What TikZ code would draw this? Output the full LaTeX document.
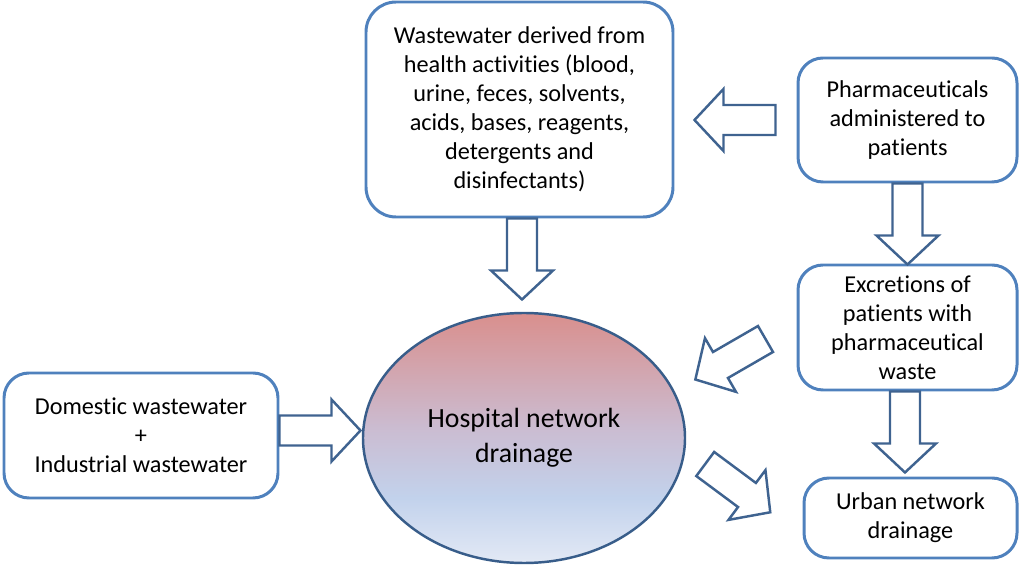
\documentclass[tikz,border=0pt]{standalone}
\usepackage{fontspec}
\setmainfont{Carlito}[RawFeature={-liga;-clig;-calt;-dlig}]
\usepackage{tikz}
\usetikzlibrary{calc,shapes.geometric}

\definecolor{boxblue}{HTML}{4F81BD}
\definecolor{arrowblue}{HTML}{3F6390}
\definecolor{ellblue}{HTML}{385D8A}
\definecolor{hosptop}{HTML}{D98F8D}
\definecolor{hospmid}{HTML}{CBBCD1}
\definecolor{hosplow}{HTML}{C2D2EC}
\definecolor{hospbot}{HTML}{E3E9F5}
\pgfdeclareverticalshading{hospshade}{100bp}{color(0bp)=(hospbot); color(25bp)=(hospbot); color(38bp)=(hosplow); color(52bp)=(hospmid); color(75bp)=(hosptop); color(100bp)=(hosptop)}

\newcommand{\blockarrow}[2]{\draw[bigarrow, shift={#1}, rotate=#2] (0,-0.3) -- (1.04,-0.3) -- (1.04,-0.62) -- (1.62,0) -- (1.04,0.62) -- (1.04,0.3) -- (0,0.3) -- cycle;}

\begin{document}
\begin{tikzpicture}[
	infobox/.style={draw=boxblue, line width=1.7pt, rounded corners=0.5cm, fill=white, align=center, inner sep=0pt, font=\fontsize{13.8}{16.5}\selectfont},
	bigarrow/.style={draw=arrowblue, line width=1.4pt, fill=white, line join=miter},
	hospital/.style={ellipse, draw=ellblue, line width=1.4pt, shading=hospshade, align=center, inner sep=0pt, font=\fontsize{15.8}{19.8}\selectfont}]
			\useasboundingbox (0,0) rectangle (20.4,11.34);
			\node[infobox, rounded corners=0.6cm, minimum width=6.14cm, minimum height=4.3cm] (health) at (10.39,9.15) {Wastewater derived from\\health activities (blood,\\urine, feces, solvents,\\acids, bases, reagents,\\detergents and\\disinfectants)};
			\node[infobox, minimum width=4.38cm, minimum height=2.48cm] (pharma) at (18.15,8.94) {Pharmaceuticals\\administered to\\patients};
			\node[infobox, minimum width=4.38cm, minimum height=2.5cm] (excret) at (18.15,4.79) {Excretions of\\patients with\\pharmaceutical\\waste};
			\node[infobox, minimum width=4.26cm, minimum height=1.6cm] (urban) at (18.21,0.98) {Urban network\\drainage};
			\node[infobox, minimum width=5.48cm, minimum height=2.5cm] (domestic) at (2.82,2.63) {Domestic wastewater\\+\\Industrial wastewater};
			\node[hospital, minimum width=6.44cm, minimum height=5cm] (hosp) at (10.48,2.58) {Hospital network\\drainage};
			\blockarrow{($(pharma.west)+(-0.42,0)$)}{180}
			\blockarrow{(pharma.south)}{-90}
			\blockarrow{($(health.south)+(0.05,0)$)}{-90}
			\blockarrow{($(domestic.east)+(0,0.1)$)}{0}
			\blockarrow{($(excret.west)+(-0.62,-0.23)$)}{210}
			\blockarrow{($(hosp.east)+(0.38,-0.52)$)}{-36.6}
			\blockarrow{($(excret.south)+(-0.05,0)$)}{-90}
		\end{tikzpicture}
\end{document}
